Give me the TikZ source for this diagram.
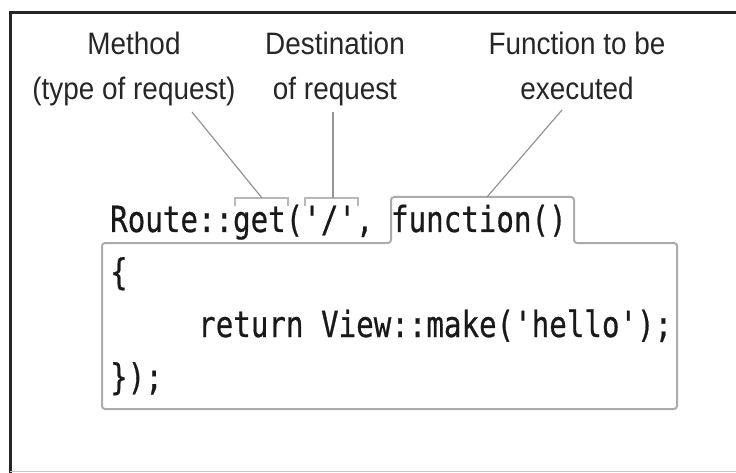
\documentclass[tikz,border=0pt]{standalone}
\usepackage{fontspec}
\newfontfamily\labelfont[FakeStretch=0.9]{Liberation Sans}
\setmonofont[FakeStretch=0.81,FakeBold=0.6]{DejaVu Sans Mono}
\begin{document}
\begin{tikzpicture}[x=1pt,y=-1pt,
  lbl/.style={font=\labelfont\fontsize{31}{36}\selectfont, text=black!85, inner sep=0pt, anchor=base},
  code/.style={font=\ttfamily\fontsize{36}{40}\selectfont, text=black!90, inner sep=0pt, anchor=base west},
  conn/.style={draw=black!42, line width=1.2pt},
  brk/.style={draw=black!28, line width=1.2pt},
  outline/.style={draw=black!33, line width=2pt, rounded corners=3pt},
  frame/.style={draw=black!85, line width=3pt}]
\useasboundingbox (0,0) rectangle (736,473);
\clip (0,0) rectangle (736,473);
% frame
\draw[frame] (10,480) -- (10,13) -- (740,13);
\draw[draw=black!22, line width=1pt] (10,471) -- (740,471);
% labels
\node[lbl] (m1) at (134,55) {Method};
\node[lbl] (m2) at (134,100) {(type of request)};
\node[lbl] (d1) at (335,55) {Destination};
\node[lbl] (d2) at (335,100) {of request};
\node[lbl] (f1) at (577,55) {Function to be};
\node[lbl] (f2) at (577,100) {executed};
% code outline
\draw[outline] (102,243) -- (391,243) -- (391,197) -- (574,197) -- (574,243) -- (677,243) -- (677,409) -- (102,409) -- cycle;
% brackets
\draw[brk] (235,206) -- (235,198) -- (288,198) -- (288,206);
\draw[brk] (305,206) -- (305,198) -- (358,198) -- (358,206);
\coordinate (gettop) at (262,198);
\coordinate (slashtop) at (333,198);
\coordinate (functop) at (487,197);
\coordinate (ms) at (192,112);
\coordinate (ds) at (333,112);
\coordinate (fs) at (562,110);
\draw[conn] (ms) -- (gettop);
\draw[conn] (ds) -- (slashtop);
\draw[conn] (fs) -- (functop);
% code
\node[code] (l1) at (110,232) {Route::get('/', function()};
\node[code] (l2) at (110,284.5) {\{};
\node[code] (l3) at (198,337) {return View::make('hello');};
\node[code] (l4) at (110,389.5) {\});};
\end{tikzpicture}
\end{document}
